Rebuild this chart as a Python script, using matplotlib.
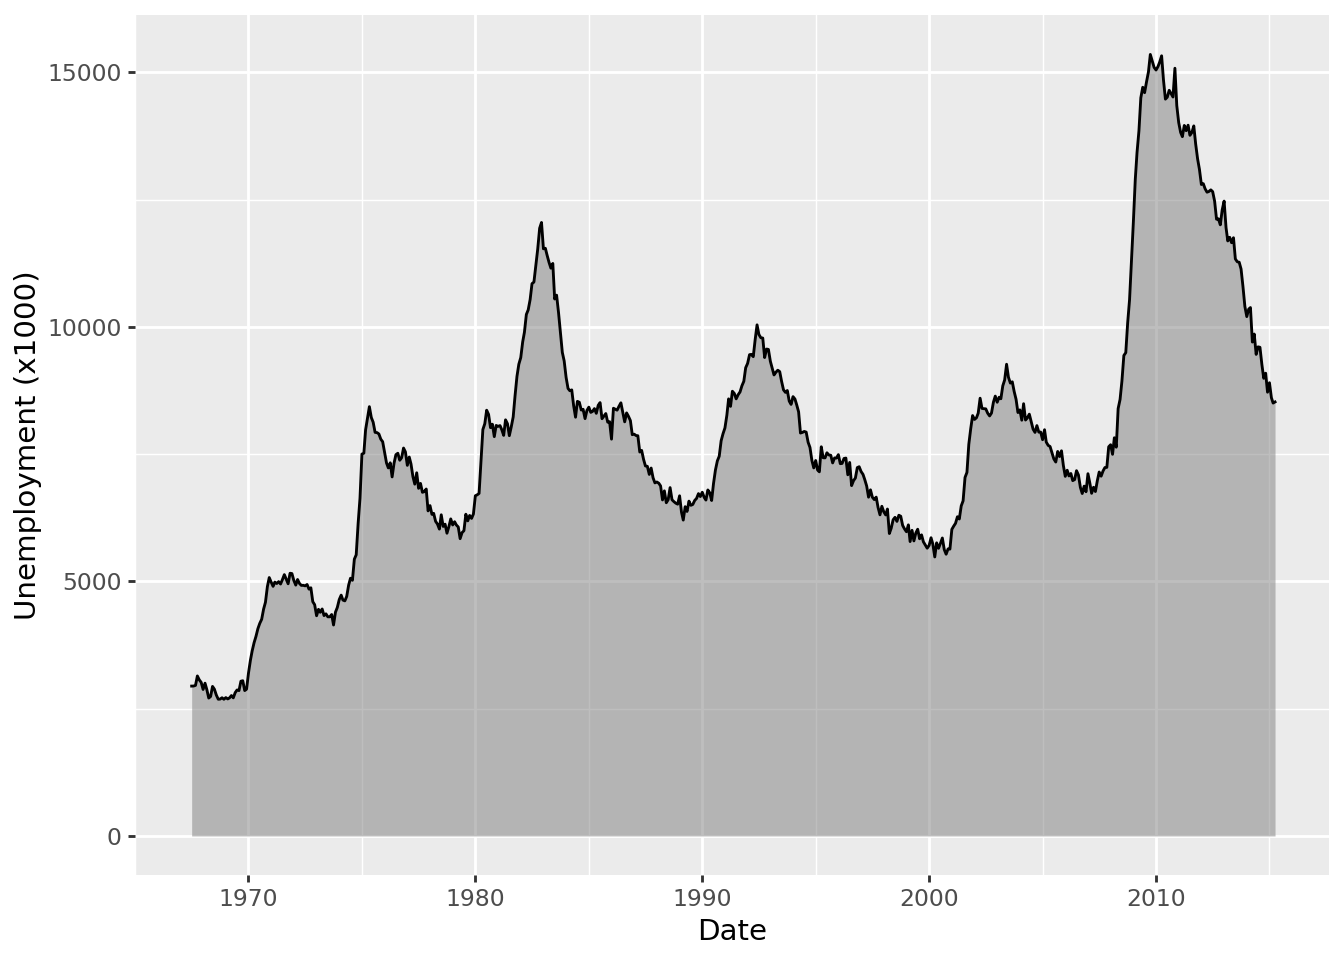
import datetime as dt
import pandas as pd
import matplotlib
matplotlib.use("Agg")
import matplotlib.pyplot as plt
import matplotlib.dates as mdates

# monthly unemployment (thousands), Jul 1967 - Apr 2015
unemploy = [
    2944, 2945, 2958, 3143, 3066, 3018,
    2878, 3001, 2877, 2709, 2740, 2938, 2883, 2768, 2686, 2689, 2715, 2685,
    2718, 2692, 2712, 2758, 2713, 2816, 2868, 2856, 3040, 3049, 2856, 2884,
    3201, 3453, 3635, 3797, 3919, 4071, 4175, 4256, 4456, 4591, 4898, 5076,
    4986, 4903, 4987, 4959, 4996, 4949, 5035, 5134, 5042, 4954, 5161, 5154,
    5019, 4928, 5038, 4959, 4922, 4923, 4913, 4939, 4849, 4875, 4602, 4543,
    4326, 4452, 4394, 4459, 4329, 4363, 4305, 4305, 4350, 4144, 4396, 4489,
    4644, 4731, 4634, 4618, 4705, 4927, 5063, 5022, 5437, 5523, 6140, 6636,
    7501, 7520, 7978, 8210, 8433, 8220, 8127, 7928, 7923, 7897, 7794, 7744,
    7534, 7326, 7230, 7330, 7053, 7322, 7490, 7518, 7380, 7430, 7620, 7545,
    7280, 7443, 7307, 7059, 6911, 7134, 6829, 6925, 6751, 6763, 6815, 6386,
    6489, 6318, 6337, 6180, 6127, 6028, 6309, 6080, 6125, 5947, 6077, 6228,
    6109, 6173, 6109, 6069, 5840, 5959, 5996, 6320, 6190, 6296, 6238, 6325,
    6683, 6702, 6729, 7358, 7984, 8098, 8363, 8281, 8021, 8088, 7844, 8064,
    8046, 8061, 7982, 7869, 8174, 8098, 7863, 8036, 8230, 8646, 9029, 9267,
    9397, 9705, 9895, 10244, 10335, 10538, 10849, 10881, 11217, 11529, 11938, 12051,
    11534, 11545, 11408, 11268, 11154, 11246, 10548, 10623, 10282, 9887, 9499, 9331,
    9008, 8791, 8746, 8762, 8456, 8226, 8537, 8519, 8367, 8381, 8198, 8358,
    8423, 8321, 8339, 8395, 8302, 8460, 8513, 8196, 8248, 8298, 8128, 8138,
    7795, 8402, 8383, 8364, 8439, 8508, 8319, 8135, 8310, 8243, 8159, 7883,
    7892, 7865, 7862, 7542, 7574, 7398, 7268, 7261, 7102, 7227, 7035, 6936,
    6953, 6929, 6876, 6601, 6779, 6546, 6605, 6843, 6604, 6568, 6537, 6518,
    6682, 6359, 6205, 6468, 6375, 6577, 6495, 6511, 6590, 6630, 6725, 6667,
    6752, 6651, 6598, 6797, 6742, 6590, 6922, 7188, 7368, 7459, 7764, 7901,
    8015, 8265, 8586, 8439, 8736, 8692, 8586, 8666, 8722, 8842, 8931, 9198,
    9283, 9454, 9460, 9415, 9744, 10040, 9850, 9787, 9781, 9398, 9565, 9557,
    9325, 9183, 9056, 9110, 9149, 9121, 8930, 8763, 8714, 8750, 8542, 8477,
    8630, 8583, 8470, 8331, 7915, 7927, 7946, 7933, 7734, 7632, 7375, 7230,
    7375, 7187, 7153, 7645, 7430, 7427, 7527, 7484, 7478, 7328, 7426, 7423,
    7491, 7313, 7318, 7415, 7423, 7095, 7337, 6882, 6979, 7031, 7236, 7253,
    7158, 7102, 7000, 6873, 6655, 6799, 6655, 6608, 6656, 6454, 6308, 6476,
    6368, 6306, 6422, 5941, 6047, 6212, 6259, 6179, 6300, 6280, 6100, 6032,
    5976, 6111, 5783, 6004, 5796, 5951, 6025, 5838, 5915, 5778, 5716, 5653,
    5708, 5858, 5733, 5481, 5758, 5651, 5747, 5853, 5625, 5534, 5639, 5634,
    6023, 6089, 6141, 6271, 6226, 6484, 6583, 7042, 7142, 7694, 8003, 8258,
    8182, 8215, 8304, 8599, 8399, 8393, 8390, 8304, 8251, 8307, 8520, 8640,
    8520, 8618, 8588, 8842, 8957, 9266, 9011, 8896, 8921, 8732, 8576, 8317,
    8370, 8167, 8491, 8170, 8212, 8286, 8136, 7990, 7927, 8061, 7932, 7934,
    7784, 7980, 7737, 7672, 7651, 7524, 7406, 7345, 7553, 7453, 7566, 7279,
    7064, 7184, 7072, 7120, 6980, 7001, 7175, 7091, 6847, 6727, 6872, 6762,
    7116, 6927, 6731, 6850, 6766, 6979, 7149, 7067, 7170, 7237, 7240, 7645,
    7685, 7497, 7822, 7637, 8395, 8575, 8937, 9438, 9494, 10074, 10538, 11286,
    12058, 12898, 13426, 13853, 14499, 14707, 14601, 14814, 15009, 15352, 15219, 15098,
    15046, 15113, 15202, 15325, 14849, 14474, 14512, 14648, 14579, 14516, 15081, 14348,
    14013, 13820, 13737, 13957, 13855, 13962, 13763, 13818, 13948, 13594, 13302, 13093,
    12797, 12813, 12713, 12646, 12660, 12692, 12656, 12471, 12115, 12124, 12005, 12298,
    12471, 11950, 11689, 11760, 11654, 11751, 11335, 11279, 11270, 11136, 10787, 10404,
    10202, 10349, 10380, 9702, 9859, 9460, 9608, 9599, 9262, 8990, 9090, 8717,
    8903, 8610, 8504, 8526,
]
dates = pd.date_range(start="1967-07-01", periods=len(unemploy), freq="MS")

year_ticks = [1970, 1980, 1990, 2000, 2010]
year_minor = [1965, 1975, 1985, 1995, 2005, 2015]
y_ticks = [0, 5000, 10000, 15000]
y_minor = [2500, 7500, 12500]

fig = plt.figure(figsize=(7, 5), dpi=192)
ax = fig.add_axes([0.1005, 0.0885, 0.8885, 0.8955])
ax.set_facecolor("#EBEBEB")

ax.fill_between(dates, 0, unemploy, color="#7F7F7F", alpha=0.5, linewidth=0, zorder=3)
ax.plot(dates, unemploy, color="black", linewidth=1.07, zorder=4)

# ggplot-like expansion (5%)
x0 = mdates.date2num(dates[0])
x1 = mdates.date2num(dates[-1])
pad = (x1 - x0) * 0.05
ax.set_xlim(x0 - pad, x1 + pad)
ymax = max(unemploy)
ax.set_ylim(-ymax * 0.05, ymax * 1.05)

ax.set_xticks([mdates.date2num(dt.datetime(y, 1, 1)) for y in year_ticks])
ax.set_xticklabels([str(y) for y in year_ticks])
ax.set_xticks([mdates.date2num(dt.datetime(y, 1, 1)) for y in year_minor], minor=True)
ax.set_yticks(y_ticks)
ax.set_yticklabels([str(v) for v in y_ticks])
ax.set_yticks(y_minor, minor=True)

ax.grid(which="major", color="white", linewidth=1.07, zorder=1)
ax.grid(which="minor", color="white", linewidth=0.53, zorder=1)
ax.set_axisbelow(True)
for s in ax.spines.values():
    s.set_visible(False)

ax.tick_params(which="major", length=2.75, width=1.07, color="#333333",
               labelsize=8.8, labelcolor="#4D4D4D", pad=2.2)
ax.tick_params(which="minor", length=0)

ax.set_xlabel("Date", fontsize=11, labelpad=2.5)
ax.set_ylabel("Unemployment (x1000)", fontsize=11, labelpad=2)

fig.savefig("out.png", dpi=192)
